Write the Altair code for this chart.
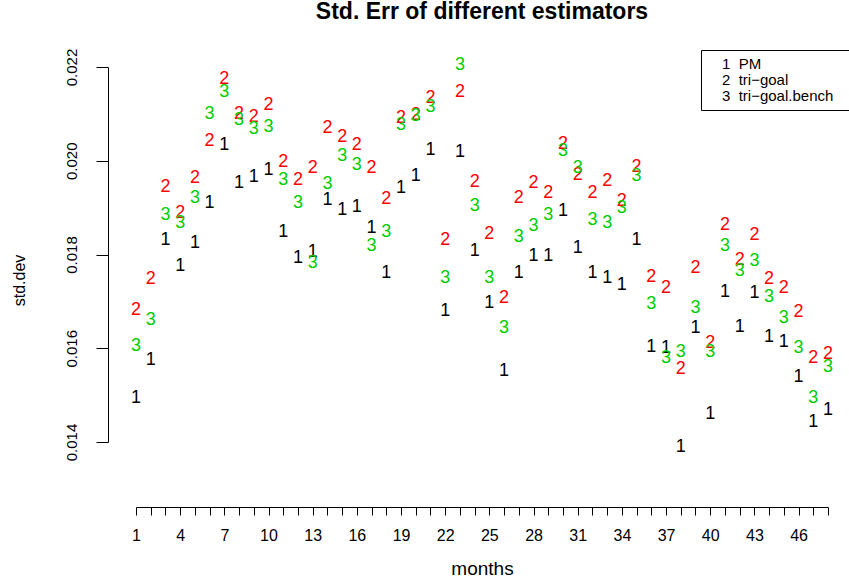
import altair as alt
import pandas as pd

months = list(range(1, 49))

pm = [0.01493, 0.01574, 0.01830, 0.01775, 0.01824, 0.01909, 0.02033, 0.01952, 0.01965, 0.01980,
      0.01847, 0.01792, 0.01805, 0.01916, 0.01894, 0.01901, 0.01856, 0.01760, 0.01941, 0.01967,
      0.02024, 0.01679, 0.02018, 0.01807, 0.01696, 0.01551, 0.01760, 0.01796, 0.01796, 0.01892,
      0.01813, 0.01760, 0.01749, 0.01736, 0.01830, 0.01602, 0.01600, 0.01389, 0.01643, 0.01459,
      0.01721, 0.01645, 0.01717, 0.01625, 0.01613, 0.01538, 0.01442, 0.01468]

tri_goal = [0.01681, 0.01747, 0.01943, 0.01888, 0.01963, 0.02042, 0.02174, 0.02099, 0.02093, 0.02120,
            0.01997, 0.01960, 0.01984, 0.02069, 0.02050, 0.02033, 0.01984, 0.01918, 0.02091, 0.02097,
            0.02133, 0.01830, 0.02146, 0.01954, 0.01843, 0.01707, 0.01920, 0.01952, 0.01931, 0.02035,
            0.01969, 0.01931, 0.01956, 0.01914, 0.01986, 0.01751, 0.01728, 0.01555, 0.01771, 0.01611,
            0.01862, 0.01788, 0.01841, 0.01747, 0.01728, 0.01677, 0.01579, 0.01587]

tri_goal_bench = [0.01604, 0.01660, 0.01884, 0.01867, 0.01920, 0.02099, 0.02146, 0.02086, 0.02067, 0.02071,
                  0.01958, 0.01909, 0.01781, 0.01950, 0.02010, 0.01990, 0.01818, 0.01847, 0.02076, 0.02095,
                  0.02114, 0.01749, 0.02204, 0.01903, 0.01749, 0.01643, 0.01837, 0.01860, 0.01884, 0.02020,
                  0.01984, 0.01873, 0.01867, 0.01899, 0.01967, 0.01694, 0.01579, 0.01591, 0.01685, 0.01591,
                  0.01818, 0.01764, 0.01786, 0.01709, 0.01664, 0.01600, 0.01493, 0.01561]

series_names = ["PM", "tri\u2212goal", "tri\u2212goal.bench"]
series_codes = ["1", "2", "3"]
series_colors = ["#000000", "#FF0000", "#00CD00"]
y_ticks = [0.014, 0.016, 0.018, 0.020, 0.022]

NB = "\u00a0"
rows = []
for code, name, vals in zip(series_codes, series_names, [pm, tri_goal, tri_goal_bench]):
    for m, v in zip(months, vals):
        rows.append({"month": m, "value": v, "code": code,
                     "entry": f"{code}{NB}{NB}{name}", "order": int(code)})
df = pd.DataFrame(rows)
entries = [f"{c}{NB}{NB}{n}" for c, n in zip(series_codes, series_names)]

FONT = "Liberation Sans"

chart = alt.Chart(df).mark_text(
    font=FONT, fontSize=18, align="center", baseline="middle"
).encode(
    x=alt.X("month:Q",
            scale=alt.Scale(domain=[1, 48], nice=False, zero=False),
            axis=alt.Axis(values=months,
                          labelExpr="(datum.value - 1) % 3 == 0 ? datum.label : ''",
                          title="months", offset=65, tickSize=8, grid=False,
                          labelFont=FONT, labelFontSize=16, labelPadding=12,
                          labelFlush=False, labelOverlap=False,
                          titleFont=FONT, titleFontSize=19, titleFontWeight="normal",
                          titlePadding=16)),
    y=alt.Y("value:Q",
            scale=alt.Scale(domain=[0.014, 0.022], nice=False, zero=False),
            axis=alt.Axis(values=y_ticks, format=".3f", offset=28, tickSize=12, grid=False,
                          labelAngle=270, labelAlign="center", labelBaseline="bottom",
                          labelFont=FONT, labelFontSize=15, labelPadding=17,
                          title="std.dev", titleFont=FONT, titleFontSize=16,
                          titleFontWeight="normal", titleAngle=270, titleAlign="center",
                          titleBaseline="middle", titleX=-89, titleY=213)),
    color=alt.Color("entry:N",
                    scale=alt.Scale(domain=entries, range=series_colors),
                    legend=alt.Legend(title=None, orient="none", legendX=565, legendY=-17,
                                      direction="vertical", symbolSize=0, symbolStrokeWidth=0,
                                      symbolOpacity=0, labelFont=FONT, labelFontSize=15,
                                      labelColor="black", labelOffset=0, padding=6,
                                      rowPadding=0, strokeColor="black", fillColor="white",
                                      cornerRadius=0, labelLimit=500,
                                      labelExpr="datum.label + '\u2800\u2800\u2800\u2800\u2800\u2800\u2800\u2800\u2800\u2800'")),
    text="code:N",
    order="order:Q",
).properties(
    width=692, height=375,
    autosize=alt.AutoSizeParams(type="none"),
    padding={"left": 136, "top": 67, "right": 21, "bottom": 139},
    title=alt.Title("Std. Err of different estimators", font=FONT, fontSize=23,
                    fontWeight="bold", anchor="middle", frame="group", offset=24,
                    color="black"),
).configure_view(strokeWidth=0).configure_axis(
    domainColor="black", tickColor="black", labelColor="black", titleColor="black"
)

chart.save("out.html", embed_options={"renderer": "svg", "actions": False})
